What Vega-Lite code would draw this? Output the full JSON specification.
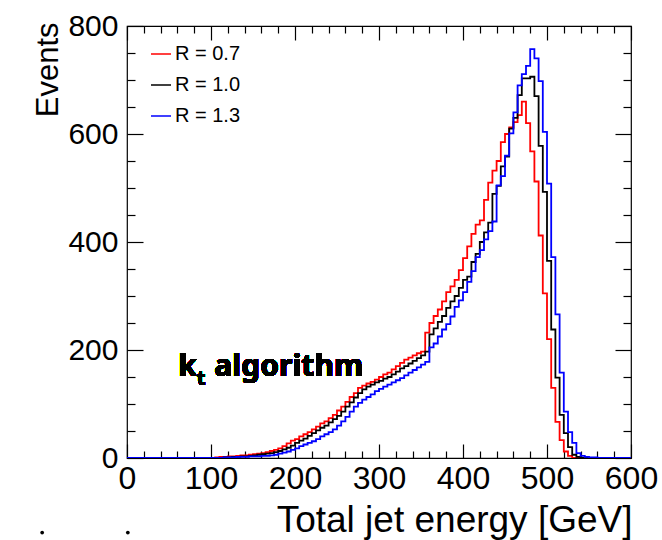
{
  "$schema": "https://vega.github.io/schema/vega-lite/v6.json",
  "width": 504,
  "height": 432,
  "autosize": {"type": "none"},
  "padding": {"left": 127, "top": 26, "right": 31, "bottom": 82},
  "background": "white",
  "config": {
    "view": {"stroke": "#000000", "strokeWidth": 1.2},
    "axis": {"grid": false, "domain": false, "labelColor": "#000", "titleColor": "#000", "tickColor": "#000", "labelFont": "Liberation Sans", "titleFont": "Liberation Sans", "titleFontWeight": "normal", "tickWidth": 1.2}
  },
  "data": {"values": [
    {"r":"R = 0.7","e":0,"n":0},{"r":"R = 0.7","e":100,"n":0},{"r":"R = 0.7","e":105,"n":1},{"r":"R = 0.7","e":110,"n":2},{"r":"R = 0.7","e":115,"n":2},{"r":"R = 0.7","e":120,"n":3},{"r":"R = 0.7","e":125,"n":3},{"r":"R = 0.7","e":130,"n":4},{"r":"R = 0.7","e":135,"n":5},{"r":"R = 0.7","e":140,"n":5},{"r":"R = 0.7","e":145,"n":6},{"r":"R = 0.7","e":150,"n":7},{"r":"R = 0.7","e":155,"n":8},{"r":"R = 0.7","e":160,"n":9},{"r":"R = 0.7","e":165,"n":11},{"r":"R = 0.7","e":170,"n":13},{"r":"R = 0.7","e":175,"n":15},{"r":"R = 0.7","e":180,"n":18},{"r":"R = 0.7","e":185,"n":22},{"r":"R = 0.7","e":190,"n":27},{"r":"R = 0.7","e":195,"n":32},{"r":"R = 0.7","e":200,"n":35},{"r":"R = 0.7","e":205,"n":40},{"r":"R = 0.7","e":210,"n":44},{"r":"R = 0.7","e":215,"n":48},{"r":"R = 0.7","e":220,"n":53},{"r":"R = 0.7","e":225,"n":58},{"r":"R = 0.7","e":230,"n":64},{"r":"R = 0.7","e":235,"n":68},{"r":"R = 0.7","e":240,"n":74},{"r":"R = 0.7","e":245,"n":80},{"r":"R = 0.7","e":250,"n":88},{"r":"R = 0.7","e":255,"n":95},{"r":"R = 0.7","e":260,"n":104},{"r":"R = 0.7","e":265,"n":113},{"r":"R = 0.7","e":270,"n":120},{"r":"R = 0.7","e":275,"n":130},{"r":"R = 0.7","e":280,"n":134},{"r":"R = 0.7","e":285,"n":138},{"r":"R = 0.7","e":290,"n":141},{"r":"R = 0.7","e":295,"n":145},{"r":"R = 0.7","e":300,"n":150},{"r":"R = 0.7","e":305,"n":155},{"r":"R = 0.7","e":310,"n":158},{"r":"R = 0.7","e":315,"n":164},{"r":"R = 0.7","e":320,"n":170},{"r":"R = 0.7","e":325,"n":176},{"r":"R = 0.7","e":330,"n":182},{"r":"R = 0.7","e":335,"n":186},{"r":"R = 0.7","e":340,"n":190},{"r":"R = 0.7","e":345,"n":194},{"r":"R = 0.7","e":350,"n":197},{"r":"R = 0.7","e":355,"n":232},{"r":"R = 0.7","e":360,"n":250},{"r":"R = 0.7","e":365,"n":263},{"r":"R = 0.7","e":370,"n":275},{"r":"R = 0.7","e":375,"n":290},{"r":"R = 0.7","e":380,"n":307},{"r":"R = 0.7","e":385,"n":318},{"r":"R = 0.7","e":390,"n":330},{"r":"R = 0.7","e":395,"n":348},{"r":"R = 0.7","e":400,"n":370},{"r":"R = 0.7","e":405,"n":392},{"r":"R = 0.7","e":410,"n":415},{"r":"R = 0.7","e":415,"n":432},{"r":"R = 0.7","e":420,"n":440},{"r":"R = 0.7","e":425,"n":478},{"r":"R = 0.7","e":430,"n":510},{"r":"R = 0.7","e":435,"n":532},{"r":"R = 0.7","e":440,"n":550},{"r":"R = 0.7","e":445,"n":585},{"r":"R = 0.7","e":450,"n":600},{"r":"R = 0.7","e":455,"n":612},{"r":"R = 0.7","e":460,"n":622},{"r":"R = 0.7","e":465,"n":635},{"r":"R = 0.7","e":470,"n":660},{"r":"R = 0.7","e":475,"n":620},{"r":"R = 0.7","e":480,"n":568},{"r":"R = 0.7","e":485,"n":512},{"r":"R = 0.7","e":490,"n":412},{"r":"R = 0.7","e":495,"n":305},{"r":"R = 0.7","e":500,"n":220},{"r":"R = 0.7","e":505,"n":130},{"r":"R = 0.7","e":510,"n":67},{"r":"R = 0.7","e":515,"n":33},{"r":"R = 0.7","e":520,"n":12},{"r":"R = 0.7","e":525,"n":4},{"r":"R = 0.7","e":530,"n":0},{"r":"R = 0.7","e":600,"n":0},
    {"r":"R = 1.0","e":0,"n":0},{"r":"R = 1.0","e":110,"n":0},{"r":"R = 1.0","e":115,"n":1},{"r":"R = 1.0","e":120,"n":1},{"r":"R = 1.0","e":125,"n":2},{"r":"R = 1.0","e":130,"n":2},{"r":"R = 1.0","e":135,"n":3},{"r":"R = 1.0","e":140,"n":3},{"r":"R = 1.0","e":145,"n":4},{"r":"R = 1.0","e":150,"n":5},{"r":"R = 1.0","e":155,"n":6},{"r":"R = 1.0","e":160,"n":7},{"r":"R = 1.0","e":165,"n":8},{"r":"R = 1.0","e":170,"n":9},{"r":"R = 1.0","e":175,"n":11},{"r":"R = 1.0","e":180,"n":13},{"r":"R = 1.0","e":185,"n":16},{"r":"R = 1.0","e":190,"n":19},{"r":"R = 1.0","e":195,"n":23},{"r":"R = 1.0","e":200,"n":28},{"r":"R = 1.0","e":205,"n":32},{"r":"R = 1.0","e":210,"n":36},{"r":"R = 1.0","e":215,"n":41},{"r":"R = 1.0","e":220,"n":46},{"r":"R = 1.0","e":225,"n":51},{"r":"R = 1.0","e":230,"n":56},{"r":"R = 1.0","e":235,"n":60},{"r":"R = 1.0","e":240,"n":66},{"r":"R = 1.0","e":245,"n":72},{"r":"R = 1.0","e":250,"n":78},{"r":"R = 1.0","e":255,"n":86},{"r":"R = 1.0","e":260,"n":95},{"r":"R = 1.0","e":265,"n":103},{"r":"R = 1.0","e":270,"n":112},{"r":"R = 1.0","e":275,"n":120},{"r":"R = 1.0","e":280,"n":127},{"r":"R = 1.0","e":285,"n":132},{"r":"R = 1.0","e":290,"n":136},{"r":"R = 1.0","e":295,"n":140},{"r":"R = 1.0","e":300,"n":143},{"r":"R = 1.0","e":305,"n":147},{"r":"R = 1.0","e":310,"n":150},{"r":"R = 1.0","e":315,"n":155},{"r":"R = 1.0","e":320,"n":160},{"r":"R = 1.0","e":325,"n":166},{"r":"R = 1.0","e":330,"n":170},{"r":"R = 1.0","e":335,"n":175},{"r":"R = 1.0","e":340,"n":180},{"r":"R = 1.0","e":345,"n":185},{"r":"R = 1.0","e":350,"n":190},{"r":"R = 1.0","e":355,"n":197},{"r":"R = 1.0","e":360,"n":229},{"r":"R = 1.0","e":365,"n":240},{"r":"R = 1.0","e":370,"n":252},{"r":"R = 1.0","e":375,"n":263},{"r":"R = 1.0","e":380,"n":278},{"r":"R = 1.0","e":385,"n":290},{"r":"R = 1.0","e":390,"n":300},{"r":"R = 1.0","e":395,"n":315},{"r":"R = 1.0","e":400,"n":330},{"r":"R = 1.0","e":405,"n":336},{"r":"R = 1.0","e":410,"n":363},{"r":"R = 1.0","e":415,"n":378},{"r":"R = 1.0","e":420,"n":400},{"r":"R = 1.0","e":425,"n":418},{"r":"R = 1.0","e":430,"n":436},{"r":"R = 1.0","e":435,"n":489},{"r":"R = 1.0","e":440,"n":504},{"r":"R = 1.0","e":445,"n":540},{"r":"R = 1.0","e":450,"n":558},{"r":"R = 1.0","e":455,"n":610},{"r":"R = 1.0","e":460,"n":630},{"r":"R = 1.0","e":465,"n":672},{"r":"R = 1.0","e":470,"n":703},{"r":"R = 1.0","e":475,"n":703},{"r":"R = 1.0","e":480,"n":706},{"r":"R = 1.0","e":485,"n":670},{"r":"R = 1.0","e":490,"n":578},{"r":"R = 1.0","e":495,"n":493},{"r":"R = 1.0","e":500,"n":365},{"r":"R = 1.0","e":505,"n":238},{"r":"R = 1.0","e":510,"n":149},{"r":"R = 1.0","e":515,"n":80},{"r":"R = 1.0","e":520,"n":46},{"r":"R = 1.0","e":525,"n":20},{"r":"R = 1.0","e":530,"n":6},{"r":"R = 1.0","e":535,"n":2},{"r":"R = 1.0","e":540,"n":0},{"r":"R = 1.0","e":600,"n":0},
    {"r":"R = 1.3","e":0,"n":0},{"r":"R = 1.3","e":110,"n":0},{"r":"R = 1.3","e":115,"n":1},{"r":"R = 1.3","e":120,"n":1},{"r":"R = 1.3","e":125,"n":1},{"r":"R = 1.3","e":130,"n":2},{"r":"R = 1.3","e":135,"n":2},{"r":"R = 1.3","e":140,"n":2},{"r":"R = 1.3","e":145,"n":3},{"r":"R = 1.3","e":150,"n":3},{"r":"R = 1.3","e":155,"n":3},{"r":"R = 1.3","e":160,"n":4},{"r":"R = 1.3","e":165,"n":4},{"r":"R = 1.3","e":170,"n":5},{"r":"R = 1.3","e":175,"n":6},{"r":"R = 1.3","e":180,"n":8},{"r":"R = 1.3","e":185,"n":10},{"r":"R = 1.3","e":190,"n":12},{"r":"R = 1.3","e":195,"n":15},{"r":"R = 1.3","e":200,"n":18},{"r":"R = 1.3","e":205,"n":22},{"r":"R = 1.3","e":210,"n":25},{"r":"R = 1.3","e":215,"n":28},{"r":"R = 1.3","e":220,"n":31},{"r":"R = 1.3","e":225,"n":35},{"r":"R = 1.3","e":230,"n":40},{"r":"R = 1.3","e":235,"n":44},{"r":"R = 1.3","e":240,"n":48},{"r":"R = 1.3","e":245,"n":53},{"r":"R = 1.3","e":250,"n":60},{"r":"R = 1.3","e":255,"n":68},{"r":"R = 1.3","e":260,"n":76},{"r":"R = 1.3","e":265,"n":86},{"r":"R = 1.3","e":270,"n":95},{"r":"R = 1.3","e":275,"n":102},{"r":"R = 1.3","e":280,"n":108},{"r":"R = 1.3","e":285,"n":113},{"r":"R = 1.3","e":290,"n":118},{"r":"R = 1.3","e":295,"n":124},{"r":"R = 1.3","e":300,"n":128},{"r":"R = 1.3","e":305,"n":132},{"r":"R = 1.3","e":310,"n":136},{"r":"R = 1.3","e":315,"n":140},{"r":"R = 1.3","e":320,"n":144},{"r":"R = 1.3","e":325,"n":148},{"r":"R = 1.3","e":330,"n":153},{"r":"R = 1.3","e":335,"n":158},{"r":"R = 1.3","e":340,"n":163},{"r":"R = 1.3","e":345,"n":168},{"r":"R = 1.3","e":350,"n":173},{"r":"R = 1.3","e":355,"n":178},{"r":"R = 1.3","e":360,"n":205},{"r":"R = 1.3","e":365,"n":212},{"r":"R = 1.3","e":370,"n":225},{"r":"R = 1.3","e":375,"n":238},{"r":"R = 1.3","e":380,"n":248},{"r":"R = 1.3","e":385,"n":262},{"r":"R = 1.3","e":390,"n":280},{"r":"R = 1.3","e":395,"n":292},{"r":"R = 1.3","e":400,"n":307},{"r":"R = 1.3","e":405,"n":326},{"r":"R = 1.3","e":410,"n":346},{"r":"R = 1.3","e":415,"n":372},{"r":"R = 1.3","e":420,"n":385},{"r":"R = 1.3","e":425,"n":405},{"r":"R = 1.3","e":430,"n":420},{"r":"R = 1.3","e":435,"n":438},{"r":"R = 1.3","e":440,"n":505},{"r":"R = 1.3","e":445,"n":522},{"r":"R = 1.3","e":450,"n":560},{"r":"R = 1.3","e":455,"n":601},{"r":"R = 1.3","e":460,"n":640},{"r":"R = 1.3","e":465,"n":690},{"r":"R = 1.3","e":470,"n":711},{"r":"R = 1.3","e":475,"n":726},{"r":"R = 1.3","e":480,"n":757},{"r":"R = 1.3","e":485,"n":740},{"r":"R = 1.3","e":490,"n":698},{"r":"R = 1.3","e":495,"n":604},{"r":"R = 1.3","e":500,"n":508},{"r":"R = 1.3","e":505,"n":372},{"r":"R = 1.3","e":510,"n":266},{"r":"R = 1.3","e":515,"n":158},{"r":"R = 1.3","e":520,"n":86},{"r":"R = 1.3","e":525,"n":48},{"r":"R = 1.3","e":530,"n":28},{"r":"R = 1.3","e":535,"n":9},{"r":"R = 1.3","e":540,"n":4},{"r":"R = 1.3","e":545,"n":2},{"r":"R = 1.3","e":550,"n":1},{"r":"R = 1.3","e":555,"n":1},{"r":"R = 1.3","e":560,"n":0},{"r":"R = 1.3","e":600,"n":0}
  ]},
  "resolve": {"axis": {"x": "independent", "y": "independent"}},
  "layer": [
    {
      "mark": {"type": "line", "interpolate": "step-after", "strokeWidth": 1.8, "clip": true},
      "encoding": {
        "x": {"field": "e", "type": "quantitative", "scale": {"domain": [0, 600], "nice": false, "zero": false},
          "axis": {"orient": "bottom", "values": [0,100,200,300,400,500,600], "ticks": false, "labelFontSize": 32, "labelPadding": 5, "labelFlush": false, "labelOverlap": false, "labelBound": false,
            "title": "Total jet energy [GeV]", "titleFontSize": 37, "titleAnchor": "end", "titleAlign": "right", "titleBaseline": "alphabetic", "titleX": 505, "titleY": 73}},
        "y": {"field": "n", "type": "quantitative", "scale": {"domain": [0, 800], "nice": false},
          "axis": {"orient": "left", "values": [0,200,400,600,800], "ticks": false, "labelFontSize": 30, "labelPadding": 9, "labelFlush": false, "labelOverlap": false, "labelBound": false,
            "title": "Events", "titleFontSize": 31, "titleAngle": -90, "titleAlign": "right", "titleBaseline": "alphabetic", "titleX": -70, "titleY": -4}},
        "color": {"field": "r", "type": "nominal",
          "scale": {"domain": ["R = 0.7", "R = 1.0", "R = 1.3"], "range": ["#ff0000", "#000000", "#0000ff"]},
          "legend": {"orient": "none", "legendX": 23, "legendY": 17, "title": null, "symbolType": "stroke", "symbolSize": 400, "symbolStrokeWidth": 1.5, "labelFontSize": 20, "labelFont": "Liberation Sans", "labelColor": "#000", "labelOffset": 3, "rowPadding": 10, "padding": 0}}
      }
    },
    {
      "mark": {"type": "point", "opacity": 0},
      "encoding": {
        "x": {"field": "e", "type": "quantitative", "scale": {"domain": [0, 600], "nice": false, "zero": false},
          "axis": {"orient": "bottom", "values": [0,100,200,300,400,500,600], "labels": false, "tickSize": -14, "title": null}},
        "y": {"field": "n", "type": "quantitative", "scale": {"domain": [0, 800], "nice": false},
          "axis": {"orient": "left", "values": [0,200,400,600,800], "labels": false, "tickSize": -16, "title": null}}
      }
    },
    {
      "mark": {"type": "point", "opacity": 0},
      "encoding": {
        "x": {"field": "e", "type": "quantitative", "scale": {"domain": [0, 600], "nice": false, "zero": false},
          "axis": {"orient": "bottom", "values": [20,40,60,80,120,140,160,180,220,240,260,280,320,340,360,380,420,440,460,480,520,540,560,580], "labels": false, "tickSize": -7, "title": null}},
        "y": {"field": "n", "type": "quantitative", "scale": {"domain": [0, 800], "nice": false},
          "axis": {"orient": "left", "values": [50,100,150,250,300,350,450,500,550,650,700,750], "labels": false, "tickSize": -8, "title": null}}
      }
    },
    {
      "mark": {"type": "point", "opacity": 0},
      "encoding": {
        "x": {"field": "e", "type": "quantitative", "scale": {"domain": [0, 600], "nice": false, "zero": false},
          "axis": {"orient": "top", "values": [0,100,200,300,400,500,600], "labels": false, "tickSize": -14, "title": null}},
        "y": {"field": "n", "type": "quantitative", "scale": {"domain": [0, 800], "nice": false},
          "axis": {"orient": "right", "values": [0,200,400,600,800], "labels": false, "tickSize": -16, "title": null}}
      }
    },
    {
      "mark": {"type": "point", "opacity": 0},
      "encoding": {
        "x": {"field": "e", "type": "quantitative", "scale": {"domain": [0, 600], "nice": false, "zero": false},
          "axis": {"orient": "top", "values": [20,40,60,80,120,140,160,180,220,240,260,280,320,340,360,380,420,440,460,480,520,540,560,580], "labels": false, "tickSize": -7, "title": null}},
        "y": {"field": "n", "type": "quantitative", "scale": {"domain": [0, 800], "nice": false},
          "axis": {"orient": "right", "values": [50,100,150,250,300,350,450,500,550,650,700,750], "labels": false, "tickSize": -8, "title": null}}
      }
    },
    {
      "mark": {"type": "text", "text": "k", "font": "Noto Sans", "fontWeight": "bold", "fontSize": 30, "align": "left", "baseline": "alphabetic", "fill": "#000", "strokeWidth": 0},
      "encoding": {"x": {"datum": 61, "type": "quantitative", "axis": null}, "y": {"datum": 151, "type": "quantitative", "axis": null}}
    },
    {
      "mark": {"type": "text", "text": "t", "font": "Noto Sans", "fontWeight": "bold", "fontSize": 20, "align": "left", "baseline": "alphabetic", "fill": "#000", "strokeWidth": 0},
      "encoding": {"x": {"datum": 83, "type": "quantitative", "axis": null}, "y": {"datum": 135, "type": "quantitative", "axis": null}}
    },
    {
      "mark": {"type": "text", "text": "algorithm", "font": "Noto Sans", "fontWeight": "bold", "fontSize": 30, "align": "left", "baseline": "alphabetic", "fill": "#000", "strokeWidth": 0},
      "encoding": {"x": {"datum": 104, "type": "quantitative", "axis": null}, "y": {"datum": 151, "type": "quantitative", "axis": null}}
    },
    {
      "data": {"values": [{"e": -101}, {"e": 1}]},
      "mark": {"type": "point", "filled": true, "fill": "#000", "size": 14, "opacity": 1, "clip": false},
      "encoding": {"x": {"field": "e", "type": "quantitative", "axis": null}, "y": {"datum": -138, "type": "quantitative", "axis": null}}
    }
  ]
}
